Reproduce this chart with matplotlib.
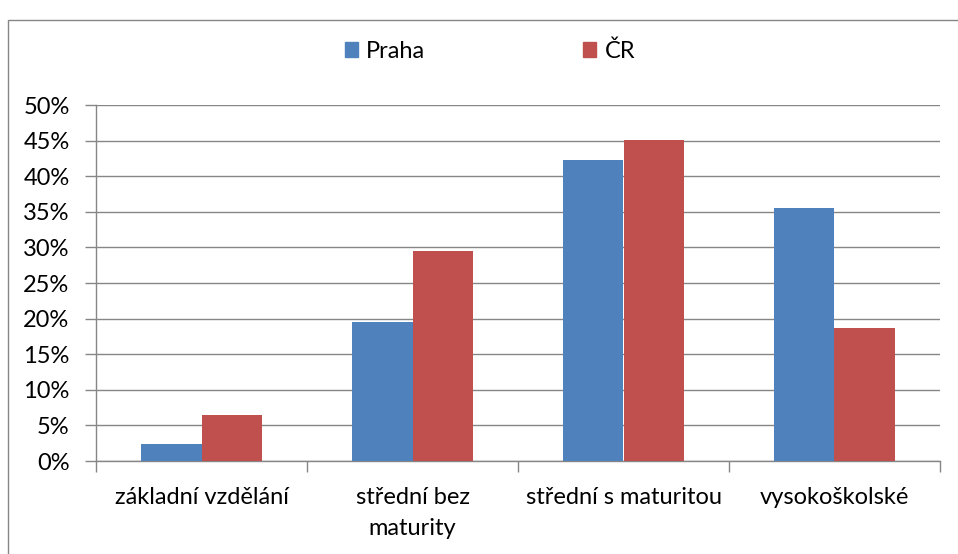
import matplotlib.pyplot as plt
from matplotlib.patches import Rectangle
from matplotlib.ticker import PercentFormatter

categories = ['základní vzdělání', 'střední bez\nmaturity', 'střední s maturitou', 'vysokoškolské']
praha = [0.024, 0.195, 0.423, 0.356]
cr = [0.065, 0.295, 0.451, 0.187]
series_names = ['Praha', 'ČR']
colors = ['#4F81BD', '#C0504D']

W, H = 958, 554

plt.rcParams['font.family'] = ['Lato', 'DejaVu Sans']
plt.rcParams['font.size'] = 17

fig = plt.figure(figsize=(W / 100, H / 100), dpi=100)
ax = fig.add_axes([96 / W, (H - 461) / H, (940 - 96) / W, (461 - 105) / H])

x = list(range(len(categories)))
width = 0.285
ax.bar([i - width / 2 for i in x], praha, width, color=colors[0], zorder=3)
ax.bar([i + width / 2 for i in x], cr, width, color=colors[1], zorder=3)

grid_color = '#868686'
ax.set_xlim(-0.5, len(categories) - 0.5)
ax.set_ylim(0, 0.5)
ax.set_yticks([i * 0.05 for i in range(11)])
ax.yaxis.set_major_formatter(PercentFormatter(1.0, decimals=0))
ax.grid(axis='y', color=grid_color, linewidth=1, zorder=0)

ax.set_xticks(x)
ax.set_xticklabels(categories, linespacing=1.55)
ax.set_xticks([i - 0.5 for i in range(len(categories) + 1)], minor=True)
ax.tick_params(axis='x', which='major', length=0, pad=19, labelsize=17)
ax.tick_params(axis='x', which='minor', length=8, color=grid_color, width=1)
ax.tick_params(axis='y', length=8, color=grid_color, width=1, pad=11, labelsize=17)

for side in ['top', 'right']:
    ax.spines[side].set_visible(False)
for side in ['left', 'bottom']:
    ax.spines[side].set_color(grid_color)
    ax.spines[side].set_linewidth(1)

handles = [Rectangle((0, 0), 1, 1, color=c) for c in colors]
fig.legend(handles, series_names, loc='center', bbox_to_anchor=(490 / W, 1 - 51 / H),
           ncol=2, frameon=False, handlelength=0.55, handleheight=0.55,
           handletextpad=0.35, columnspacing=6.7, fontsize=17)

fig.patches.append(Rectangle((8 / W, -0.1), 1.1, (H - 20) / H + 0.1,
                             transform=fig.transFigure, fill=False,
                             edgecolor=grid_color, linewidth=1))

fig.savefig('out.png', dpi=100)
